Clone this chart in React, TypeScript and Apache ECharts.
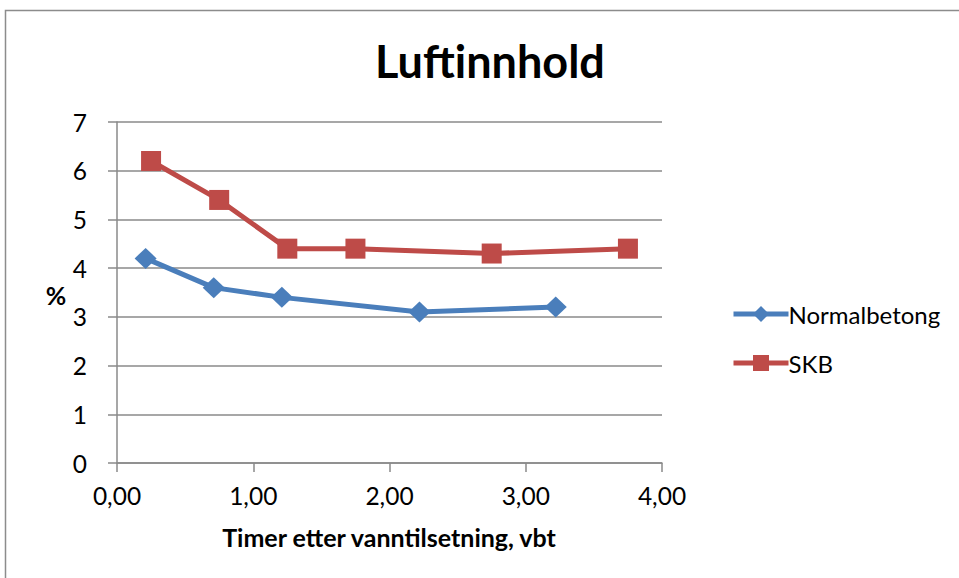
import React, { useEffect, useRef } from "react";
import * as echarts from "echarts";

const normalX = [0.21, 0.71, 1.21, 2.22, 3.22];
const normalY = [4.2, 3.6, 3.4, 3.1, 3.2];
const skbX = [0.25, 0.75, 1.25, 1.75, 2.75, 3.75];
const skbY = [6.2, 5.4, 4.4, 4.4, 4.3, 4.4];
const seriesNames = ["Normalbetong", "SKB"];
const titleText = "Luftinnhold";
const xAxisTitle = "Timer etter vanntilsetning, vbt";
const yAxisTitle = "%";

const FONT = "Lato, 'Noto Sans', sans-serif";

export default function App() {
  const ref = useRef<HTMLDivElement>(null);
  useEffect(() => {
    if (!ref.current) return;
    const chart = echarts.init(ref.current, undefined, { renderer: "svg" });
    const gridColor = "#8a8a8a";
    chart.setOption({
      animation: false,
      backgroundColor: "#ffffff",
      textStyle: { fontFamily: FONT },
      title: {
        text: titleText,
        left: 485,
        top: 33,
        textAlign: "center",
        textStyle: { fontFamily: FONT, fontWeight: "bold", fontSize: 45, color: "#000" },
      },
      grid: { left: 117, right: 297, top: 122, bottom: 115, containLabel: false },
      xAxis: {
        type: "value",
        min: 0,
        max: 4,
        interval: 1,
        axisLine: { show: true, lineStyle: { color: gridColor, width: 1.5 } },
        axisTick: { show: true, length: 9, lineStyle: { color: gridColor, width: 1.5 } },
        splitLine: { show: false },
        axisLabel: {
          margin: 20,
          fontSize: 24.5,
          color: "#000",
          fontFamily: FONT,
          formatter: (v: number) => v.toFixed(2).replace(".", ","),
        },
      },
      yAxis: {
        type: "value",
        min: 0,
        max: 7,
        interval: 1,
        axisLine: { show: true, lineStyle: { color: gridColor, width: 1.5 } },
        axisTick: { show: true, length: 9, lineStyle: { color: gridColor, width: 1.5 } },
        splitLine: { show: true, lineStyle: { color: gridColor, width: 1.5 } },
        axisLabel: { margin: 30, fontSize: 24.5, color: "#000", fontFamily: FONT },
      },
      legend: {
        orient: "vertical",
        left: 726,
        top: 297,
        itemWidth: 55,
        itemHeight: 20,
        itemGap: 25,
        lineStyle: { width: 5 },
        textStyle: { fontSize: 24, color: "#000", fontFamily: FONT, padding: [0, 0, 0, -5] },
        data: seriesNames,
      },
      series: [
        {
          name: seriesNames[0],
          type: "line",
          data: normalX.map((x, i) => [x, normalY[i]]),
          symbol: "diamond",
          symbolSize: [22, 21],
          itemStyle: { color: "#4a7ebb" },
          lineStyle: { color: "#4a7ebb", width: 5 },
        },
        {
          name: seriesNames[1],
          type: "line",
          data: skbX.map((x, i) => [x, skbY[i]]),
          symbol: "rect",
          symbolSize: 20,
          itemStyle: { color: "#be4b48" },
          lineStyle: { color: "#be4b48", width: 5 },
        },
      ],
      graphic: [
        {
          type: "rect",
          shape: { x: 5.5, y: 10.5, width: 1000, height: 1000 },
          style: { fill: "none", stroke: "#8c8c8c", lineWidth: 1.5 },
          silent: true,
        },
        {
          type: "text",
          x: 56,
          y: 295,
          style: {
            text: yAxisTitle,
            fontFamily: FONT,
            fontWeight: "bold",
            fontSize: 25,
            fill: "#000",
            align: "center",
            verticalAlign: "middle",
          },
        },
        {
          type: "text",
          x: 389,
          y: 537,
          style: {
            text: xAxisTitle,
            fontFamily: FONT,
            fontWeight: "bold",
            fontSize: 25,
            fill: "#000",
            align: "center",
            verticalAlign: "middle",
          },
        },
      ],
    });
    return () => chart.dispose();
  }, []);
  return (
    <div
      ref={ref}
      style={{ position: "fixed", left: 0, top: 0, width: 959, height: 578 }}
    />
  );
}
